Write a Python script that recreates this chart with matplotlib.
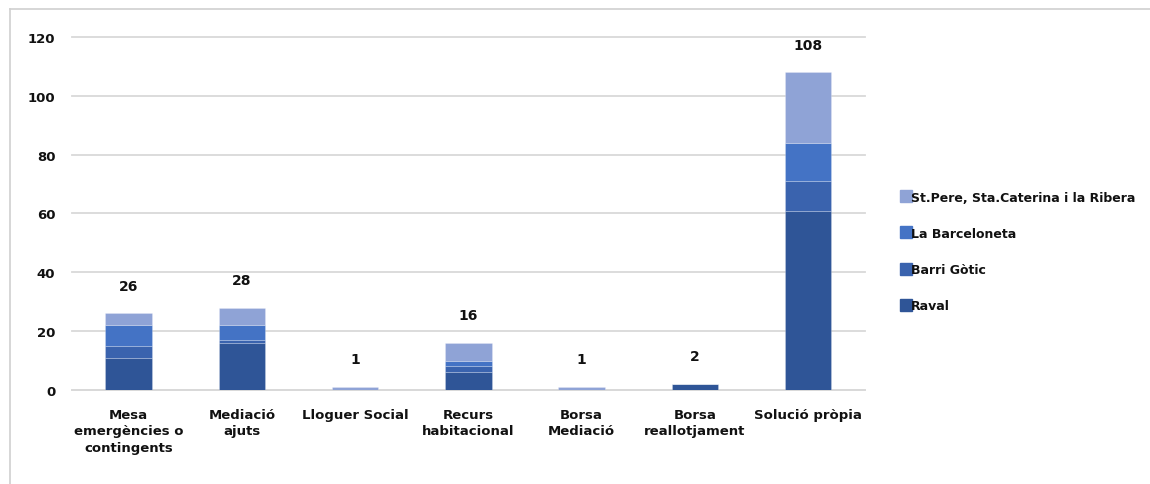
import matplotlib
matplotlib.use("Agg")
from matplotlib import pyplot as plt
from matplotlib.lines import Line2D
import numpy as np

categories = ["Mesa\nemergències o\ncontingents", "Mediació\najuts", "Lloguer Social",
              "Recurs\nhabitacional", "Borsa\nMediació", "Borsa\nreallotjament", "Solució pròpia"]
raval = [11, 16, 0, 6, 0, 2, 61]
gotic = [4, 1, 0, 2, 0, 0, 10]
barceloneta = [7, 5, 0, 2, 0, 0, 13]
st_pere = [4, 6, 1, 6, 1, 0, 24]
series_names = ["Raval", "Barri Gòtic", "La Barceloneta", "St.Pere, Sta.Caterina i la Ribera"]
colors = ["#2f5597", "#3a63ae", "#4473c5", "#8fa3d6"]

plt.rcParams['font.family'] = ['DejaVu Sans']

fig = plt.figure(figsize=(11.5, 4.85), dpi=100)
ax = fig.add_axes([0.0626, 0.194, 0.6894, 0.7276])

x = np.arange(len(categories))
bottom = np.zeros(len(categories))
for vals, name, col in zip([raval, gotic, barceloneta, st_pere], series_names, colors):
    vals = np.array(vals, dtype=float)
    ax.bar(x, vals, width=0.41, bottom=bottom, color=col, label=name,
           edgecolor=(1, 1, 1, 0.25), linewidth=0.6, zorder=3)
    bottom += vals

totals = bottom
for xi, t in zip(x, totals):
    ax.annotate(f"{int(t)}", (xi, t), xytext=(0, 20), textcoords="offset points",
                ha="center", va="center", fontsize=10, fontweight="bold", color="#111111")

ax.set_xlim(-0.5, len(categories) - 0.5)
ax.set_ylim(0, 120)
ax.set_yticks(range(0, 121, 20))
ax.yaxis.grid(True, color="#d9d9d9", linewidth=1.3, zorder=0)
for gl in ax.get_ygridlines():
    gl.set_clip_on(False)
ax.set_axisbelow(True)
for s in ["top", "right", "left"]:
    ax.spines[s].set_visible(False)
ax.spines["bottom"].set_color("#d9d9d9")
ax.spines["bottom"].set_linewidth(1.3)
ax.tick_params(axis="both", length=0, labelsize=9.5, colors="#111111")
ax.tick_params(axis="y", pad=12)
ax.tick_params(axis="x", pad=13)
ax.set_xticks(x)
ax.set_xticklabels(categories, fontweight="bold", linespacing=1.35)
for lab in ax.get_yticklabels():
    lab.set_fontweight("bold")

handles = [Line2D([0], [0], marker="s", linestyle="none", markersize=8,
                  markerfacecolor=c, markeredgecolor=c) for c in colors]
leg = fig.legend(handles[::-1], series_names[::-1], loc="upper left",
                 bbox_to_anchor=(0.775, 0.628), frameon=False, handlelength=0.6,
                 handletextpad=0.1, labelspacing=1.85, prop={"size": 9, "weight": "bold"})
for t in leg.get_texts():
    t.set_color("#111111")

# outer frame of the screenshot
fig.add_artist(Line2D([0.009, 0.009], [0.0, 0.98], color="#d0d0d0", linewidth=1.2))
fig.add_artist(Line2D([0.009, 1.0], [0.98, 0.98], color="#d0d0d0", linewidth=1.2))

fig.savefig("out.png", dpi=100)
